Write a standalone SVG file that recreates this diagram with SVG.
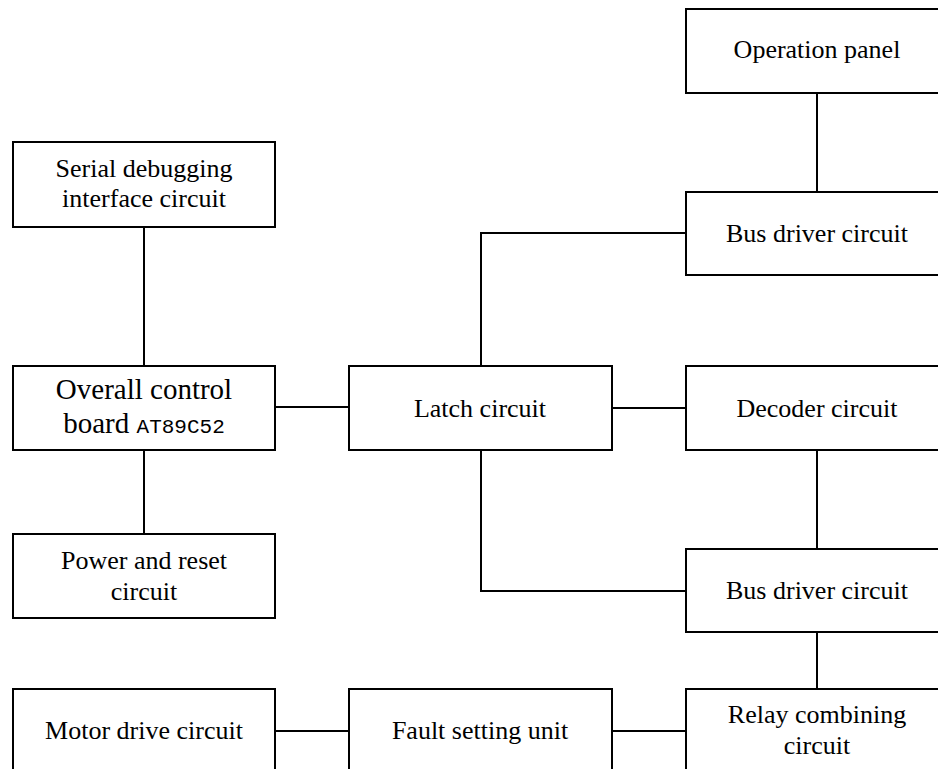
<svg xmlns="http://www.w3.org/2000/svg" width="938" height="769" viewBox="0 0 938 769">
<style>
.box{fill:#fff;stroke:#000;stroke-width:2}
.t{font-family:"Liberation Serif","Times New Roman",serif;font-size:26px;fill:#000;text-anchor:middle}
.big{font-size:29px}
.mono{font-family:"Liberation Mono","DejaVu Sans Mono",monospace;font-size:21px}
.c{fill:none;stroke:#000;stroke-width:2}
</style>
<rect width="938" height="769" fill="#fff"/>
<g id="connectors">
<path class="c" d="M144 227V366"/>
<path class="c" d="M144 450V534"/>
<path class="c" d="M275 407H349"/>
<path class="c" d="M612 408H686"/>
<path class="c" d="M817 93V192"/>
<path class="c" d="M481 366V233H686"/>
<path class="c" d="M481 450V591H686"/>
<path class="c" d="M817 450V549"/>
<path class="c" d="M817 632V689"/>
<path class="c" d="M275 731H349"/>
<path class="c" d="M612 731H686"/>
</g>
<g id="serial"><rect class="box" x="13" y="142" width="262" height="85"/><text class="t" x="144" y="177">Serial debugging</text><text class="t" x="144" y="207">interface circuit</text></g>
<g id="overall"><rect class="box" x="13" y="366" width="262" height="84"/><text class="t big" x="144" y="399">Overall control</text><text class="t" x="144" y="433"><tspan class="big">board </tspan><tspan class="mono">AT89C52</tspan></text></g>
<g id="power"><rect class="box" x="13" y="534" width="262" height="84"/><text class="t" x="144" y="569">Power and reset</text><text class="t" x="144" y="600">circuit</text></g>
<g id="motor"><rect class="box" x="13" y="689" width="262" height="100"/><text class="t" x="144" y="739">Motor drive circuit</text></g>
<g id="latch"><rect class="box" x="349" y="366" width="263" height="84"/><text class="t" x="480" y="417">Latch circuit</text></g>
<g id="fault"><rect class="box" x="349" y="689" width="263" height="100"/><text class="t" x="480" y="739">Fault setting unit</text></g>
<g id="operation"><rect class="box" x="686" y="9" width="262" height="84"/><text class="t" x="817" y="58">Operation panel</text></g>
<g id="bus1"><rect class="box" x="686" y="192" width="262" height="83"/><text class="t" x="817" y="242">Bus driver circuit</text></g>
<g id="decoder"><rect class="box" x="686" y="366" width="262" height="84"/><text class="t" x="817" y="417">Decoder circuit</text></g>
<g id="bus2"><rect class="box" x="686" y="549" width="262" height="83"/><text class="t" x="817" y="599">Bus driver circuit</text></g>
<g id="relay"><rect class="box" x="686" y="689" width="262" height="100"/><text class="t" x="817" y="723">Relay combining</text><text class="t" x="817" y="754">circuit</text></g>
</svg>
